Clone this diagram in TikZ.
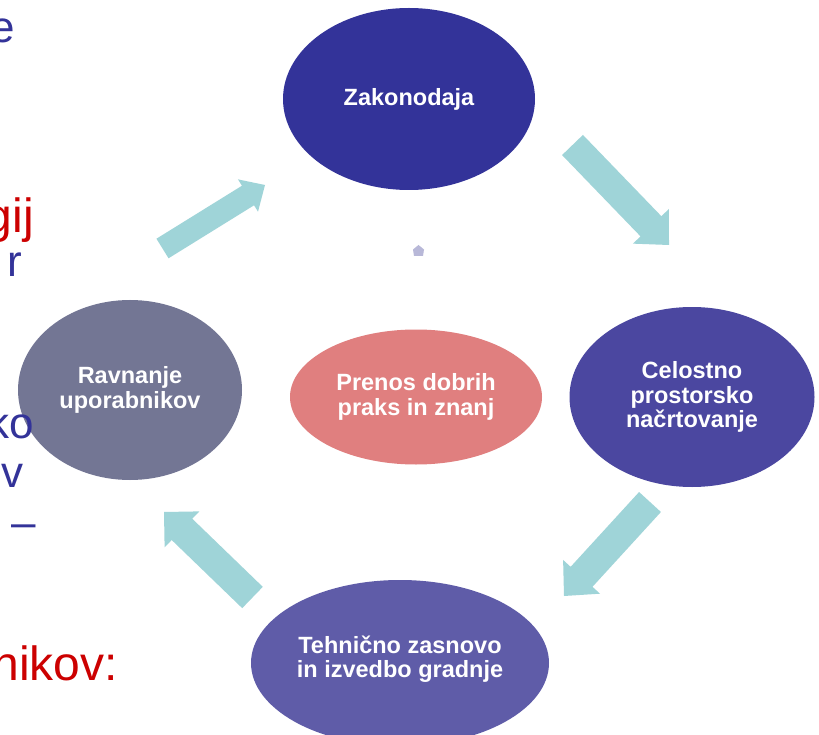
\documentclass[tikz,border=0pt]{standalone}
\usepackage{fontspec}
\setmainfont{Liberation Sans}
\usetikzlibrary{calc,shapes.geometric}
\definecolor{zakc}{HTML}{333399}
\definecolor{celc}{HTML}{4B47A0}
\definecolor{tehc}{HTML}{5F5CA8}
\definecolor{ravc}{HTML}{737694}
\definecolor{prec}{HTML}{E07F7F}
\definecolor{arrc}{HTML}{9FD4D8}
\definecolor{pentc}{HTML}{B8B8D8}
\definecolor{bgblue}{HTML}{333399}
\definecolor{bgred}{HTML}{CC0000}
\tikzset{
  cyc/.style={ellipse, inner sep=0pt, text=white, align=center,
    font=\bfseries\fontsize{23.5}{24.5}\selectfont},
  cyclearrow/.style={fill=arrc},
  fragblue/.style={inner sep=0pt, anchor=base east, text=bgblue, font=\fontsize{44}{48}\selectfont},
  fragred/.style={inner sep=0pt, anchor=base east, text=bgred, font=\fontsize{48}{52}\selectfont},
}
\newcommand{\blockarrow}[5]{%
  \coordinate (#1-b) at ($(#2)!#5!(#1)$);
  \fill[cyclearrow] ($(#1)!#3!90:(#2)$) -- ($(#1-b)!#3!90:(#2)$) -- ($(#1-b)!#4!90:(#2)$)
    -- (#2) -- ($(#1-b)!#4!-90:(#2)$) -- ($(#1-b)!#3!-90:(#2)$) -- ($(#1)!#3!-90:(#2)$) -- cycle;
}
\begin{document}
\begin{tikzpicture}[x=1pt,y=-1pt]
\useasboundingbox (0,0) rectangle (819,735);
\fill[white] (0,0) rectangle (819,735);

% ellipses
\node[cyc, fill=zakc, minimum width=252pt, minimum height=182pt] (zak) at (409,99) {Zakonodaja};
\node[cyc, fill=celc, minimum width=245pt, minimum height=180pt] (cel) at (692,397) {Celostno\\prostorsko\\načrtovanje};
\node[cyc, fill=tehc, minimum width=298pt, minimum height=166pt, text depth=13pt] (teh) at (400,663) {Tehnično zasnovo\\in izvedbo gradnje};
\node[cyc, fill=ravc, minimum width=224pt, minimum height=180pt] (rav) at (130,390) {Ravnanje\\uporabnikov};
\node[cyc, fill=prec, minimum width=252pt, minimum height=135pt] (pre) at (416,397) {Prenos dobrih\\praks in znanj};

% arrows
\coordinate (a1) at (162.5,248.5); \coordinate (h1) at (265,185);
\coordinate (a2) at (572.5,145);   \coordinate (h2) at (669,245);
\coordinate (a3) at (650,502);     \coordinate (h3) at (564,596);
\coordinate (a4) at (252.5,597.5); \coordinate (h4) at (164,512);
\blockarrow{a1}{h1}{11.5pt}{19pt}{20pt}
\blockarrow{a2}{h2}{14.5pt}{25pt}{26pt}
\blockarrow{a3}{h3}{14.8pt}{25pt}{26pt}
\blockarrow{a4}{h4}{14.8pt}{25pt}{25pt}

% small marker
\fill[pentc] (418.5,245) -- (424,249.5) -- (423,256) -- (414,256) -- (413,249.5) -- cycle;

% background text fragments
\node[fragblue] (f1) at (15,43) {e};
\node[fragred]  (f2) at (34,233) {gij};
\node[fragblue] (f3) at (22,277) {r};
\node[fragblue] (f4) at (34,438) {ko};
\node[fragblue] (f5) at (24,487) {v};
\node[fragblue] (f6) at (36,537) {–};
\node[fragred]  (f7) at (118,680) {nikov:};
\end{tikzpicture}
\end{document}
